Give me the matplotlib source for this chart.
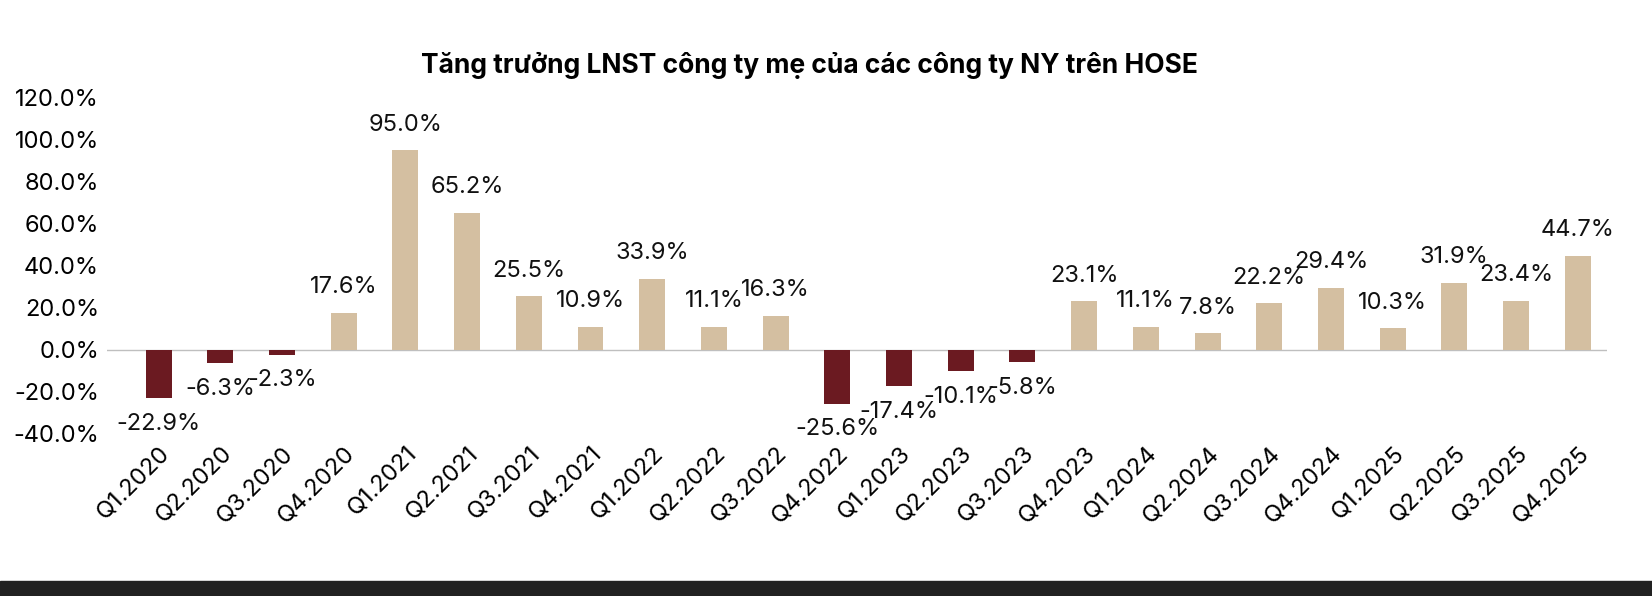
import matplotlib
matplotlib.use("Agg")
import matplotlib.pyplot as plt
from matplotlib.patches import Rectangle

plt.rcParams['font.family'] = ['Inter', 'DejaVu Sans']

quarters = ["Q1.2020","Q2.2020","Q3.2020","Q4.2020","Q1.2021","Q2.2021","Q3.2021","Q4.2021",
            "Q1.2022","Q2.2022","Q3.2022","Q4.2022","Q1.2023","Q2.2023","Q3.2023","Q4.2023",
            "Q1.2024","Q2.2024","Q3.2024","Q4.2024","Q1.2025","Q2.2025","Q3.2025","Q4.2025"]
growth = [-22.9,-6.3,-2.3,17.6,95.0,65.2,25.5,10.9,33.9,11.1,16.3,-25.6,-17.4,-10.1,-5.8,
          23.1,11.1,7.8,22.2,29.4,10.3,31.9,23.4,44.7]

fig = plt.figure(figsize=(16.52, 5.96), dpi=100)
ax = fig.add_axes([0.065, 0.272, 0.908, 0.564])
x = list(range(len(quarters)))
colors = ['#6b1a21' if v < 0 else '#d4bfa1' for v in growth]
ax.bar(x, growth, width=0.42, color=colors, zorder=2)
ax.axhline(0, color='#bfbfbf', lw=1, zorder=1)
for xi, v in zip(x, growth):
    off = 7 if v >= 0 else -7
    ax.text(xi, v + off, f"{v:.1f}%", ha='center', va='bottom' if v >= 0 else 'top',
            fontsize=17, color='#111')
ax.set_ylim(-40, 120)
ax.set_xlim(-0.83, 23.48)
ax.set_yticks(range(-40, 121, 20))
ax.set_yticklabels([f"{t:.1f}%" for t in range(-40, 121, 20)], fontsize=17)
ax.set_xticks(x)
ax.set_xticklabels(quarters, rotation=45, ha='right', rotation_mode='anchor', fontsize=17)
ax.tick_params(length=0, pad=6)
for s in ax.spines.values():
    s.set_visible(False)
fig.text(0.49, 0.89, "Tăng trưởng LNST công ty mẹ của các công ty NY trên HOSE",
         ha='center', va='center', fontsize=19, fontweight='bold')
fig.patches.append(Rectangle((0, 0), 1, 0.025, transform=fig.transFigure,
                             color='#222222', zorder=0))
fig.savefig("out.png", dpi=100)
